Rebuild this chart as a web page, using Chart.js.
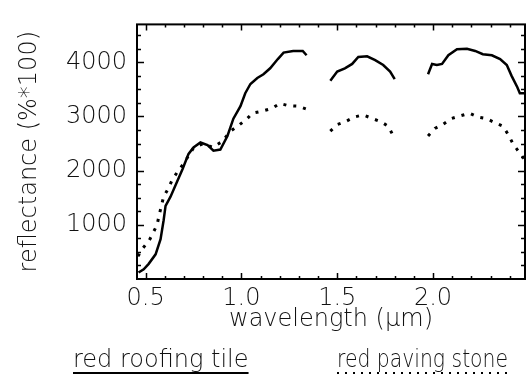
<!DOCTYPE html>
<html>
<head>
<meta charset="utf-8">
<script src="https://cdn.jsdelivr.net/npm/chart.js@4"></script>
<style>
  html, body { margin: 0; padding: 0; background: #fff; }
  canvas { display: block; }
</style>
</head>
<body>
<canvas id="stage" width="526" height="378"></canvas>
<script>
// wavelength (um) and reflectance (%*100); null = water band gap
const tileWl = [0.463, 0.49, 0.516, 0.552, 0.578, 0.594, 0.604, 0.63, 0.656, 0.693, 0.724, 0.75, 0.786, 0.823, 0.854, 0.89,
  0.927, 0.958, 0.995, 1.02, 1.047, 1.083, 1.115, 1.15, 1.19, 1.22, 1.27, 1.32, 1.34, 1.40,
  1.464, 1.5, 1.54, 1.578, 1.61, 1.656, 1.698, 1.74, 1.776, 1.80, 1.89,
  1.974, 1.995, 2.02, 2.047, 2.08, 2.125, 2.177, 2.22, 2.26, 2.307, 2.35, 2.385, 2.41, 2.44, 2.453, 2.48];
const tileRefl = [120, 180, 280, 455, 735, 1085, 1350, 1520, 1730, 2030, 2310, 2430, 2520, 2470, 2370, 2390,
  2640, 2960, 3190, 3430, 3600, 3710, 3780, 3890, 4060, 4180, 4210, 4210, 4130, null,
  3660, 3830, 3890, 3970, 4100, 4110, 4040, 3950, 3830, 3690, null,
  3780, 3970, 3950, 3970, 4130, 4240, 4250, 4210, 4150, 4130, 4060, 3950, 3750, 3540, 3430, 3430];

const stoneWl = [0.46, 0.484, 0.52, 0.54, 0.56, 0.57, 0.594, 0.62, 0.64, 0.667, 0.70, 0.75, 0.80, 0.85, 0.90,
  0.943, 0.984, 1.03, 1.057, 1.11, 1.16, 1.20, 1.245, 1.297, 1.344, 1.40,
  1.464, 1.5, 1.54, 1.59, 1.635, 1.685, 1.73, 1.766, 1.79, 1.89,
  1.974, 2.01, 2.05, 2.094, 2.14, 2.19, 2.234, 2.28, 2.32, 2.365, 2.39, 2.417, 2.437, 2.46, 2.48];
const stoneRefl = [420, 560, 720, 860, 1000, 1170, 1520, 1680, 1840, 1980, 2140, 2420, 2500, 2430, 2540,
  2730, 2830, 2960, 3060, 3100, 3150, 3240, 3200, 3190, 3130, null,
  2730, 2850, 2900, 2990, 3030, 2960, 2900, 2820, 2660, null,
  2640, 2780, 2850, 2960, 3010, 3060, 2990, 2960, 2890, 2820, 2680, 2500, 2400, 2290, 2200];

const xMajor = [0.5, 1.0, 1.5, 2.0];
const yMajor = [1000, 2000, 3000, 4000];
const seriesNames = ['red roofing tile', 'red paving stone'];

const FONT = { family: 'DejaVu Sans', size: 24, weight: 200 };
const INK = '#111';

function pairs(xs, ys) {
  return xs.map((x, i) => ({ x: x, y: ys[i] }));
}

// frame + inward tick marks on all four sides
const framePlugin = {
  id: 'frame',
  afterDraw(chart) {
    const ctx = chart.ctx;
    const a = chart.chartArea;
    const xs = chart.scales.x, ys = chart.scales.y;
    ctx.save();
    ctx.strokeStyle = '#000';
    ctx.lineWidth = 2;
    ctx.strokeRect(a.left, a.top, a.right - a.left, a.bottom - a.top);
    ctx.lineWidth = 1.5;
    ctx.beginPath();
    xs.ticks.forEach(t => {
      const px = Math.round(xs.getPixelForValue(t.value)) + 0.5;
      const len = t.label ? 6 : 3;
      ctx.moveTo(px, a.bottom); ctx.lineTo(px, a.bottom - len);
      ctx.moveTo(px, a.top); ctx.lineTo(px, a.top + len);
    });
    ys.ticks.forEach(t => {
      const py = Math.round(ys.getPixelForValue(t.value)) + 0.5;
      const len = t.label ? 7 : 4;
      ctx.moveTo(a.left, py); ctx.lineTo(a.left + len, py);
      ctx.moveTo(a.right, py); ctx.lineTo(a.right - len, py);
    });
    ctx.stroke();

    // legend with underlines
    ctx.font = FONT.weight + ' ' + FONT.size + 'px ' + FONT.family;
    ctx.fillStyle = INK;
    ctx.textBaseline = 'alphabetic';
    const items = [
      { x: 73, w: 180, dash: [] },
      { x: 337, w: 171, dash: [2, 6] }
    ];
    chart.data.datasets.forEach((ds, i) => {
      const it = items[i];
      ctx.fillText(ds.label, it.x, 367, it.w);
      const w = Math.min(ctx.measureText(ds.label).width, it.w);
      ctx.beginPath();
      ctx.setLineDash(it.dash);
      ctx.lineWidth = 2;
      ctx.moveTo(it.x, 373); ctx.lineTo(it.x + w, 373);
      ctx.stroke();
    });
    ctx.restore();
  }
};

new Chart(document.getElementById('stage'), {
  type: 'line',
  data: {
    datasets: [{
      label: seriesNames[0],
      data: pairs(tileWl, tileRefl),
      borderColor: '#000',
      borderWidth: 2.5,
      pointRadius: 0,
      spanGaps: false,
      tension: 0
    }, {
      label: seriesNames[1],
      data: pairs(stoneWl, stoneRefl),
      borderColor: '#000',
      borderWidth: 3,
      borderDash: [3, 7],
      borderCapStyle: 'butt',
      pointRadius: 0,
      spanGaps: false,
      tension: 0
    }]
  },
  options: {
    responsive: false,
    animation: false,
    layout: { padding: { top: 11, right: 1, left: 0, bottom: 0 } },
    plugins: { legend: { display: false }, tooltip: { enabled: false } },
    scales: {
      x: {
        type: 'linear',
        min: 0.455,
        max: 2.48,
        afterFit: s => { s.height = 99; },
        afterBuildTicks: s => {
          const t = [];
          for (let i = 5; i <= 24; i++) t.push({ value: i / 10 });
          s.ticks = t;
        },
        grid: { display: false, drawTicks: false },
        border: { display: false },
        ticks: {
          autoSkip: false,
          maxRotation: 0,
          padding: 5,
          color: INK,
          font: FONT,
          callback: v => xMajor.some(m => Math.abs(m - v) < 1e-6) ? v.toFixed(1) : ''
        },
        title: {
          display: true,
          text: 'wavelength (μm)',
          color: INK,
          font: FONT,
          padding: { top: 0, bottom: 44 }
        }
      },
      y: {
        min: 0,
        max: 4700,
        afterFit: s => { s.width = 137; },
        afterBuildTicks: s => {
          const t = [];
          for (let v = 250; v <= 4500; v += 250) t.push({ value: v });
          s.ticks = t;
        },
        grid: { display: false, drawTicks: false },
        border: { display: false },
        ticks: {
          autoSkip: false,
          padding: 10,
          color: INK,
          font: FONT,
          callback: v => yMajor.includes(v) ? String(v) : ''
        },
        title: {
          display: true,
          text: 'reflectance (%*100)',
          color: INK,
          font: FONT,
          padding: { top: 15, bottom: 0 }
        }
      }
    }
  },
  plugins: [framePlugin]
});
</script>
</body>
</html>
